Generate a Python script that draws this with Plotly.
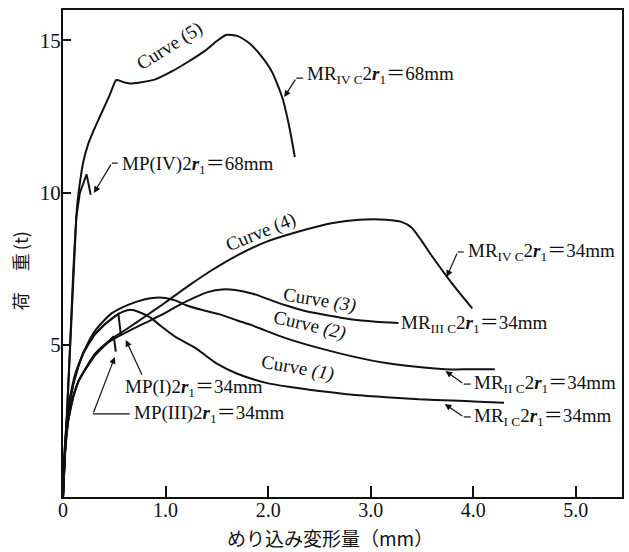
import plotly.graph_objects as go

# Load (t) versus indentation (mm) for the bearing tests
c1_x = [0, 0.02, 0.05, 0.1, 0.15, 0.2, 0.3, 0.4, 0.5, 0.58, 0.66, 0.74, 0.85, 0.96, 1.1, 1.29, 1.5, 1.7, 1.98, 2.2, 2.5, 2.82, 3.15, 3.47, 3.79, 4.05, 4.3]
c1_y = [0, 1.7, 2.8, 3.7, 4.3, 4.75, 5.3, 5.65, 5.92, 6.08, 6.15, 6.08, 5.9, 5.6, 5.25, 4.9, 4.38, 4.05, 3.75, 3.62, 3.48, 3.36, 3.28, 3.21, 3.17, 3.13, 3.10]

c2_x = [0, 0.02, 0.05, 0.087, 0.13, 0.185, 0.25, 0.31, 0.4, 0.476, 0.56, 0.64, 0.72, 0.8, 0.9, 1.0, 1.1, 1.2, 1.35, 1.53, 1.7, 1.85, 2.17, 2.5, 2.82, 3.15, 3.47, 3.79, 3.95, 4.21]
c2_y = [0, 1.8, 2.9, 3.6, 4.15, 4.62, 5.1, 5.45, 5.8, 6.04, 6.2, 6.32, 6.42, 6.5, 6.55, 6.54, 6.45, 6.3, 6.15, 6.0, 5.8, 5.63, 5.22, 4.89, 4.62, 4.4, 4.27, 4.19, 4.2, 4.2]

c3_x = [0, 0.02, 0.05, 0.1, 0.15, 0.2, 0.31, 0.45, 0.64, 0.8, 0.96, 1.1, 1.28, 1.42, 1.55, 1.68, 1.85, 2.0, 2.17, 2.35, 2.5, 2.82, 3.05, 3.27]
c3_y = [0, 1.5, 2.5, 3.3, 3.8, 4.1, 4.65, 5.1, 5.45, 5.72, 5.98, 6.25, 6.55, 6.74, 6.82, 6.8, 6.68, 6.5, 6.3, 6.12, 6.02, 5.83, 5.76, 5.72]

c4_x = [0, 0.02, 0.05, 0.1, 0.15, 0.2, 0.31, 0.476, 0.64, 0.8, 0.96, 1.1, 1.25, 1.45, 1.655, 1.98, 2.3, 2.63, 2.89, 3.15, 3.3, 3.4, 3.5, 3.6, 3.79, 3.99]
c4_y = [0, 1.5, 2.5, 3.3, 3.8, 4.1, 4.7, 5.2, 5.56, 5.93, 6.3, 6.64, 7.0, 7.45, 7.86, 8.38, 8.72, 9.0, 9.11, 9.11, 9.04, 8.85, 8.4, 7.9, 7.03, 6.2]

c5_x = [0, 0.035, 0.068, 0.1, 0.139, 0.17, 0.197, 0.246, 0.3, 0.36, 0.457, 0.52, 0.58, 0.64, 0.75, 0.9, 1.06, 1.22, 1.38, 1.5, 1.59, 1.7, 1.82, 1.93, 2.04, 2.14, 2.21, 2.26]
c5_y = [0, 2.5, 4.9, 7.4, 9.6, 10.45, 11.0, 11.6, 12.05, 12.5, 13.22, 13.7, 13.64, 13.59, 13.62, 13.72, 13.98, 14.3, 14.65, 14.98, 15.18, 15.15, 14.9, 14.5, 13.95, 13.1, 12.1, 11.17]

# short tests that stopped at the first load drop
mp4_x = [0, 0.035, 0.068, 0.1, 0.13, 0.165, 0.23, 0.27]
mp4_y = [0, 2.5, 4.9, 7.4, 9.2, 10.0, 10.6, 9.93]

mp1_x = [0, 0.02, 0.05, 0.1, 0.15, 0.2, 0.3, 0.4, 0.5, 0.54, 0.565]
mp1_y = [0, 1.7, 2.8, 3.7, 4.3, 4.75, 5.3, 5.65, 5.92, 6.02, 5.3]

mp3_x = [0, 0.02, 0.05, 0.1, 0.15, 0.2, 0.31, 0.45, 0.495, 0.515]
mp3_y = [0, 1.5, 2.5, 3.3, 3.8, 4.1, 4.65, 5.15, 5.28, 4.78]

x_ticks = [0, 1, 2, 3, 4, 5]
x_tick_text = ["0", "1.0", "2.0", "3.0", "4.0", "5.0"]
y_ticks = [5, 10, 15]
y_tick_text = ["5", "10", "15"]

SERIF = "Liberation Serif, Noto Sans CJK JP, serif"
CJK = "Noto Sans CJK JP, sans-serif"
INK = "#111111"

fig = go.Figure()

for xs, ys, shape in [
    (c1_x, c1_y, "spline"), (c2_x, c2_y, "spline"), (c3_x, c3_y, "spline"),
    (c4_x, c4_y, "spline"), (c5_x, c5_y, "spline"),
    (mp4_x, mp4_y, "linear"), (mp1_x, mp1_y, "linear"), (mp3_x, mp3_y, "linear"),
]:
    fig.add_trace(go.Scatter(
        x=xs, y=ys, mode="lines",
        line=dict(color=INK, width=2, shape=shape, smoothing=0.6 if shape == "spline" else None),
        showlegend=False, hoverinfo="skip",
    ))

R1 = "2<b><i>r</i></b><sub>1</sub>＝"

# curve names written along the lines
curve_labels = [
    ("Curve (5)", 1.04, 14.82, -32),
    ("Curve (4)", 1.93, 8.72, -22),
    ("Curve <i>(3)</i>", 2.50, 6.47, 9),
    ("Curve <i>(2)</i>", 2.40, 5.65, 13),
    ("Curve <i>(1)</i>", 2.29, 4.23, 10),
]
for txt, x, y, ang in curve_labels:
    fig.add_annotation(x=x, y=y, text=txt, textangle=ang, showarrow=False,
                       font=dict(family=SERIF, size=19, color=INK))

# specimen labels
spec_labels = [
    ("MR<sub>IV C</sub>" + R1 + "68mm", 2.36, 13.86),
    ("MP(IV)" + R1 + "68mm", 0.554, 10.90),
    ("MR<sub>IV C</sub>" + R1 + "34mm", 3.93, 8.05),
    ("MR<sub>III C</sub>" + R1 + "34mm", 3.275, 5.68),
    ("MR<sub>II C</sub>" + R1 + "34mm", 3.99, 3.71),
    ("MR<sub>I C</sub>" + R1 + "34mm", 3.99, 2.63),
    ("MP(I)" + R1 + "34mm", 0.583, 3.58),
    ("MP(III)" + R1 + "34mm", 0.67, 2.73),
]
for txt, x, y in spec_labels:
    fig.add_annotation(x=x, y=y, text=txt, xanchor="left", yanchor="middle", showarrow=False,
                       font=dict(family=SERIF, size=19, color=INK))

# leader lines: short dash next to the label, then an arrow to the curve
dashes = [
    (2.342, 13.76, 2.274, 13.76),
    (0.534, 10.97, 0.476, 10.97),
    (3.907, 8.05, 3.848, 8.05),
    (3.975, 3.71, 3.907, 3.71),
    (3.975, 2.63, 3.907, 2.63),
    (0.651, 2.73, 0.292, 2.73),
]
for x0, y0, x1, y1 in dashes:
    fig.add_shape(type="line", x0=x0, y0=y0, x1=x1, y1=y1, xref="x", yref="y",
                  line=dict(color=INK, width=1.2))

arrows = [
    (2.274, 13.76, 2.157, 13.14),
    (0.476, 10.97, 0.301, 9.99),
    (3.848, 8.05, 3.741, 7.23),
    (3.907, 3.71, 3.73, 4.14),
    (3.907, 2.63, 3.722, 3.055),
    (0.777, 3.97, 0.612, 5.16),
    (0.292, 2.73, 0.505, 4.60),
]
for ax, ay, x, y in arrows:
    fig.add_annotation(x=x, y=y, ax=ax, ay=ay, xref="x", yref="y", axref="x", ayref="y",
                       text="", showarrow=True, arrowhead=2, arrowsize=1.1, arrowwidth=1.2,
                       arrowcolor=INK, standoff=0, startstandoff=0)

# y axis title, set piece by piece so the spacing follows the vertical layout
for piece, py in [("荷", 301), ("重", 262), ("(t)", 241)]:
    fig.add_annotation(xref="paper", yref="paper", x=(20 - 63) / 561, y=(497 - py) / 487,
                       xanchor="center", yanchor="middle",
                       text=piece, textangle=-90, showarrow=False,
                       font=dict(family=CJK, size=18, color=INK))
fig.add_annotation(xref="paper", yref="paper", x=(331 - 63) / 561, y=(497 - 537) / 487,
                   xanchor="center", yanchor="middle",
                   text="めり込み変形量（mm）", showarrow=False,
                   font=dict(family=CJK, size=19, color=INK))

fig.update_xaxes(range=[0, 5.45], tickvals=x_ticks, ticktext=x_tick_text,
                 ticks="inside", ticklen=11, tickwidth=1.5, tickcolor=INK,
                 showline=True, linecolor=INK, linewidth=2, mirror=True,
                 showgrid=False, zeroline=False, ticklabelstandoff=-6,
                 tickfont=dict(family=SERIF, size=20, color=INK))
fig.update_yaxes(range=[0, 16], tickvals=y_ticks, ticktext=y_tick_text,
                 ticks="inside", ticklen=8, tickwidth=1.5, tickcolor=INK,
                 showline=True, linecolor=INK, linewidth=2, mirror=True,
                 showgrid=False, zeroline=False, ticklabelstandoff=-4,
                 tickfont=dict(family=SERIF, size=21, color=INK))

fig.update_layout(width=629, height=552, margin=dict(l=63, r=5, t=10, b=55),
                  paper_bgcolor="white", plot_bgcolor="white")

fig.write_html("out.html")
